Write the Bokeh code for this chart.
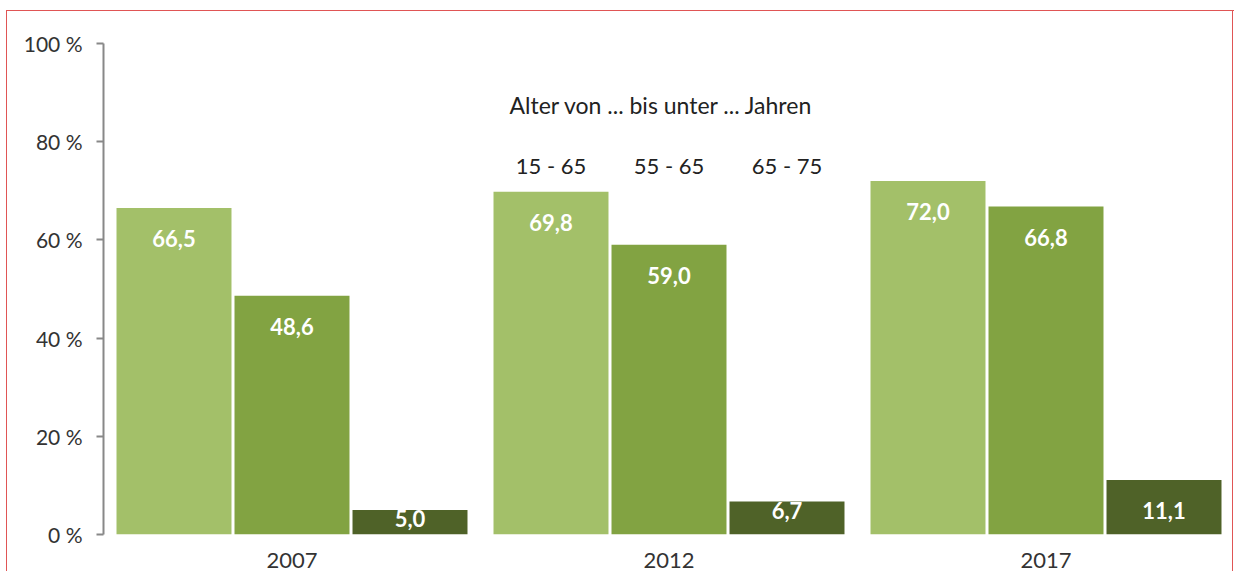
from bokeh.plotting import figure
from bokeh.models import ColumnDataSource, FactorRange, Range1d, FixedTicker, CustomJSTickFormatter
from bokeh.transform import dodge
from bokeh.core.properties import value
from bokeh.embed import file_html
from bokeh.resources import INLINE

years = ["2007", "2012", "2017"]
series = ["15 - 65", "55 - 65", "65 - 75"]
v_15_65 = [66.5, 69.8, 72.0]
v_55_65 = [48.6, 59.0, 66.8]
v_65_75 = [5.0, 6.7, 11.1]
y_ticks = [0, 20, 40, 60, 80, 100]
legend_title = "Alter von ... bis unter ... Jahren"

colors = ["#A3C069", "#82A342", "#4F6228"]
offsets = [-0.313, 0.0, 0.313]
bar_w = 0.305
FONT = "Lato"
RED = "#e05555"

g = f"linear-gradient({RED},{RED})"
border_styles = {
    "background-color": "white",
    "background-image": f"{g}, {g}, {g}",
    "background-position": "6px 10px, 6px 10px, 1232px 10px",
    "background-size": "1228px 1px, 1px 700px, 1px 700px",
    "background-repeat": "no-repeat",
}

p = figure(x_range=FactorRange(*years, range_padding=0), y_range=Range1d(0, 100),
           width=1234, height=571, output_backend="svg", toolbar_location=None,
           min_border_left=103, min_border_right=0, min_border_top=43, min_border_bottom=37,
           styles=border_styles)
p.outline_line_color = None
p.xgrid.grid_line_color = None
p.ygrid.grid_line_color = None
p.background_fill_color = None
p.border_fill_color = None

vals = [v_15_65, v_55_65, v_65_75]
for i, vs in enumerate(vals):
    src = ColumnDataSource(dict(
        x=years, top=vs,
        lbl=[f"{v:.1f}".replace(".", ",") for v in vs],
        yo=[31 if v >= 10 else 9 for v in vs],
    ))
    xx = dodge("x", offsets[i], range=p.x_range)
    p.vbar(x=xx, top="top", bottom=0, width=bar_w, source=src,
           fill_color=colors[i], line_color=None)
    p.text(x=xx, y="top", text="lbl", source=src, y_offset="yo",
           text_align="center", text_baseline="middle", text_color="white",
           text_font=value(FONT), text_font_style="bold", text_font_size="22px")

# legend-like labels above the middle group
for i in range(3):
    s = ColumnDataSource(dict(x=[years[1]], y=[75.2], t=[series[i]]))
    p.text(x=dodge("x", offsets[i], range=p.x_range), y="y", text="t", source=s,
           text_align="center", text_baseline="middle", text_color="#222222",
           text_font=value(FONT), text_font_size="22px")
ts = ColumnDataSource(dict(x=[years[1]], y=[87.4], t=[legend_title]))
p.text(x=dodge("x", -0.02, range=p.x_range), y="y", text="t", source=ts,
       text_align="center", text_baseline="middle", text_color="#222222",
       text_font=value(FONT), text_font_size="23px")

# y axis
p.yaxis.ticker = FixedTicker(ticks=y_ticks)
p.yaxis.formatter = CustomJSTickFormatter(code="return tick + ' %';")
p.yaxis.axis_line_color = "#888888"
p.yaxis.axis_line_width = 2
p.yaxis.major_tick_line_color = "#888888"
p.yaxis.major_tick_line_width = 2
p.yaxis.major_tick_out = 7
p.yaxis.major_tick_in = 0
p.yaxis.minor_tick_line_color = None
p.yaxis.major_label_standoff = 14
p.yaxis.major_label_text_font = FONT
p.yaxis.major_label_text_font_size = "21px"
p.yaxis.major_label_text_color = "#333333"

# x axis
p.xaxis.axis_line_color = None
p.xaxis.major_tick_line_color = None
p.xaxis.minor_tick_line_color = None
p.xaxis.major_label_standoff = 12
p.xaxis.major_label_text_font = FONT
p.xaxis.major_label_text_font_size = "22px"
p.xaxis.major_label_text_color = "#333333"

open("out.html", "w").write(file_html(p, INLINE))
